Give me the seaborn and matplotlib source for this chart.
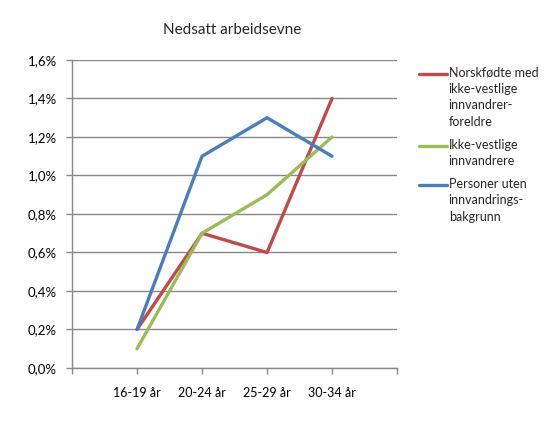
import matplotlib
matplotlib.use('Agg')
import matplotlib.pyplot as plt
from matplotlib.legend_handler import HandlerLine2D
import seaborn as sns
import numpy as np
import pandas as pd

# data (percent)
age_groups = ['16-19 år', '20-24 år', '25-29 år', '30-34 år']
series_names = ['Norskfødte med\nikke-vestlige\ninnvandrer-\nforeldre',
                'Ikke-vestlige\ninnvandrere',
                'Personer uten\ninnvandrings-\nbakgrunn']
norskfodte = [0.2, 0.7, 0.6, 1.4]
ikke_vestlige = [0.1, 0.7, 0.9, 1.2]
uten_bakgrunn = [0.2, 1.1, 1.3, 1.1]
y_ticks = [0.0, 0.2, 0.4, 0.6, 0.8, 1.0, 1.2, 1.4, 1.6]

colors = ['#BE4B48', '#9BBB59', '#4A7EBB']
FS = 9
LINESP = 1.42


class FirstLineHandler(HandlerLine2D):
    """Put the legend line next to the first text line instead of the middle."""
    def __init__(self, shift, **kw):
        super().__init__(**kw)
        self.shift = shift

    def create_artists(self, legend, orig_handle, xdescent, ydescent,
                       width, height, fontsize, trans):
        artists = super().create_artists(legend, orig_handle, xdescent, ydescent,
                                         width, height, fontsize, trans)
        for a in artists:
            a.set_ydata(np.asarray(a.get_ydata()) + self.shift)
        return artists


df = pd.DataFrame({
    'alder': age_groups * 3,
    'andel': norskfodte + ikke_vestlige + uten_bakgrunn,
    'gruppe': [n for n in series_names for _ in age_groups],
})
df['pos'] = df['alder'].map({a: i for i, a in enumerate(age_groups)})

sns.set_style('white')
plt.rcParams['font.family'] = ['Lato', 'DejaVu Sans']

fig = plt.figure(figsize=(5.6, 4.3), dpi=100)
ax = fig.add_axes([0.1286, 0.1442, 0.5804, 0.7163])

sns.lineplot(data=df, x='pos', y='andel', hue='gruppe', palette=colors,
             hue_order=series_names, linewidth=2.4, sort=False, ax=ax, legend=False)

grid_col = '#878787'
ax.set_xlim(-1, 4)
ax.set_ylim(0, 1.6)
ax.set_yticks(y_ticks)
ax.set_yticklabels([f'{v:.1f}%'.replace('.', ',') for v in y_ticks], fontsize=FS + 0.5)
ax.set_xticks(range(-1, 5))
ax.set_xticklabels([''] + age_groups + [''], fontsize=FS)
ax.yaxis.grid(True, color=grid_col, linewidth=1)
ax.set_axisbelow(True)
ax.tick_params(axis='both', direction='out', length=4, width=1, color=grid_col,
               left=True, bottom=True, pad=7, labelcolor='black')
ax.tick_params(axis='x', pad=10)
for side in ['top', 'right']:
    ax.spines[side].set_visible(False)
for side in ['left', 'bottom']:
    ax.spines[side].set_color(grid_col)
    ax.spines[side].set_linewidth(1)
ax.set_xlabel('')
ax.set_ylabel('')

fig.text(0.414, 0.93, 'Nedsatt arbeidsevne', ha='center', va='center', fontsize=11)

handles = [plt.Line2D([], [], color=c, linewidth=2.4) for c in colors]
line_h = 11.5  # points between text lines in the legend
hmap = {h: FirstLineHandler(name.count('\n') / 2 * line_h)
        for h, name in zip(handles, series_names)}
leg = fig.legend(handles, series_names, loc='upper left', bbox_to_anchor=(0.74, 0.856),
                 frameon=False, fontsize=FS, handlelength=2.2, handletextpad=0.15,
                 labelspacing=0.9, borderaxespad=0, handler_map=hmap)
for t in leg.get_texts():
    t.set_linespacing(LINESP)

fig.savefig('out.png', dpi=100)
